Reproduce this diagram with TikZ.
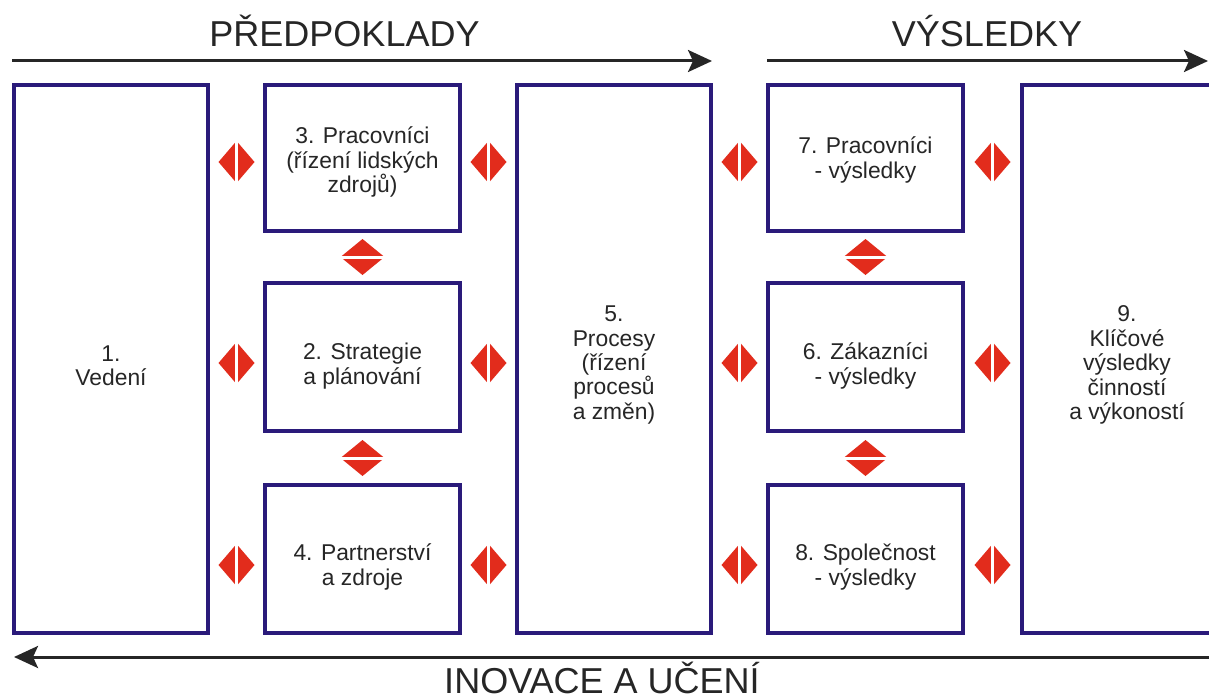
\documentclass[tikz,border=0pt]{standalone}
\usepackage{fontspec}
\setmainfont{Liberation Sans}
\usetikzlibrary{arrows.meta,calc}
\definecolor{boxblue}{RGB}{42,26,122}
\definecolor{dblred}{RGB}{226,44,28}
\tikzset{
  box/.style={draw=boxblue,line width=0.08cm,inner sep=0pt},
  boxtext/.style={align=center,inner sep=0pt,text=black!85,
    font=\fontsize{13}{13.9}\selectfont},
  bigarr/.style={draw=black!85,line width=0.06cm,-{Stealth[length=0.48cm,width=0.44cm,inset=0.1cm]}},
  title/.style={anchor=base,inner sep=0pt,text=black!85,font=\fontsize{20.5}{24}\selectfont},
  hdbl/.pic={\fill[dblred] (-18,0)--(0,-21)--(18,0)--(0,21)--cycle;
    \draw[white,line width=0.06cm] (0,-22)--(0,22);},
  vdbl/.pic={\fill[dblred] (-22,0)--(0,-18)--(22,0)--(0,18)--cycle;
    \draw[white,line width=0.06cm] (-23,0)--(23,0);}
}
\begin{document}
\begin{tikzpicture}[x=0.02cm,y=-0.02cm]
        \clip (0,0) rectangle (1209,699);
        \fill[white] (0,0) rectangle (1209,699);

        % columns of boxes
        \node[box,minimum width=3.88cm,minimum height=10.96cm] (b1) at (111,359) {};
        \node[box,minimum width=3.9cm,minimum height=2.92cm] (b3) at (362.5,158) {};
        \node[box,minimum width=3.9cm,minimum height=2.96cm] (b2) at (362.5,357) {};
        \node[box,minimum width=3.9cm,minimum height=2.96cm] (b4) at (362.5,559) {};
        \node[box,minimum width=3.88cm,minimum height=10.96cm] (b5) at (614,359) {};
        \node[box,minimum width=3.9cm,minimum height=2.92cm] (b7) at (865.5,158) {};
        \node[box,minimum width=3.9cm,minimum height=2.96cm] (b6) at (865.5,357) {};
        \node[box,minimum width=3.9cm,minimum height=2.96cm] (b8) at (865.5,559) {};
        \node[box,minimum width=4.2cm,minimum height=10.96cm] (b9) at (1127,359) {};

        % texts of the boxes
        \node[boxtext] (t1) at ($(b1)+(0,7)$) {1.\\Vedení};
        \node[boxtext] (t3) at ($(b3)+(0,4)$) {3. Pracovníci\\(řízení lidských\\zdrojů)};
        \node[boxtext] (t2) at ($(b2)+(0,9)$) {2. Strategie\\a plánování};
        \node[boxtext] (t4) at ($(b4)+(0,8)$) {4. Partnerství\\a zdroje};
        \node[boxtext] (t5) at ($(b5)+(0,6)$) {5.\\Procesy\\(řízení\\procesů\\a změn)};
        \node[boxtext] (t7) at ($(b7)+(0,2)$) {7. Pracovníci\\- výsledky};
        \node[boxtext] (t6) at ($(b6)+(0,9)$) {6. Zákazníci\\- výsledky};
        \node[boxtext] (t8) at ($(b8)+(0,8)$) {8. Společnost\\- výsledky};
        \node[boxtext] (t9) at ($(b9)+(0,6)$) {9.\\Klíčové\\výsledky\\činností\\a výkoností};

        % double arrows between the boxes
        \path ($(b1.east |- b3)!0.5!(b3.west)$) ++(0,4) pic {hdbl};
        \path ($(b1.east |- b2)!0.5!(b2.west)$) ++(0,6) pic {hdbl};
        \path ($(b1.east |- b4)!0.5!(b4.west)$) ++(0,6) pic {hdbl};
        \path ($(b3.east)!0.5!(b5.west |- b3)$) ++(0,4) pic {hdbl};
        \path ($(b2.east)!0.5!(b5.west |- b2)$) ++(0,6) pic {hdbl};
        \path ($(b4.east)!0.5!(b5.west |- b4)$) ++(0,6) pic {hdbl};
        \path ($(b5.east |- b7)!0.5!(b7.west)$) ++(0,4) pic {hdbl};
        \path ($(b5.east |- b6)!0.5!(b6.west)$) ++(0,6) pic {hdbl};
        \path ($(b5.east |- b8)!0.5!(b8.west)$) ++(0,6) pic {hdbl};
        \path ($(b7.east)!0.5!(b9.west |- b7)$) ++(0,4) pic {hdbl};
        \path ($(b6.east)!0.5!(b9.west |- b6)$) ++(0,6) pic {hdbl};
        \path ($(b8.east)!0.5!(b9.west |- b8)$) ++(0,6) pic {hdbl};
        \path ($(b3.south)!0.5!(b2.north)$) pic {vdbl};
        \path ($(b2.south)!0.5!(b4.north)$) pic {vdbl};
        \path ($(b7.south)!0.5!(b6.north)$) pic {vdbl};
        \path ($(b6.south)!0.5!(b8.north)$) pic {vdbl};

        % big arrows and titles
        \coordinate (pa) at (12,61);
        \coordinate (pb) at (712,61);
        \coordinate (va) at (767,61);
        \coordinate (vb) at (1208,61);
        \coordinate (ia) at (1215,657);
        \coordinate (ib) at (14,657);
        \path[bigarr] (pa) to (pb);
        \path[bigarr] (va) to (vb);
        \path[bigarr] (ia) to (ib);
        \node[title] (tp) at (344.5,47) {PŘEDPOKLADY};
        \node[title] (tv) at (987,47) {VÝSLEDKY};
        \node[title] (ti) at (602,693) {INOVACE A UČENÍ};
    \end{tikzpicture}
\end{document}
